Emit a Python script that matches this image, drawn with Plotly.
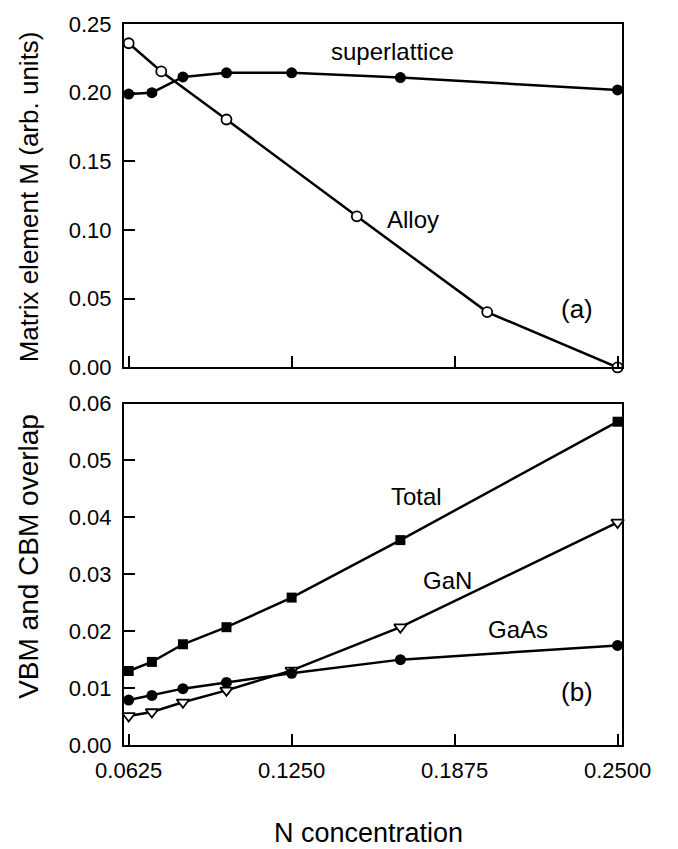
import plotly.graph_objects as go
from plotly.subplots import make_subplots

# ---- data ----
x_sl = [0.0625, 0.0714, 0.0833, 0.1000, 0.1250, 0.1667, 0.2500]
m_superlattice = [0.199, 0.200, 0.2115, 0.2145, 0.2145, 0.211, 0.202]

x_alloy = [0.0625, 0.0750, 0.1000, 0.1500, 0.2000, 0.2500]
m_alloy = [0.236, 0.2155, 0.1805, 0.1100, 0.0403, 0.0]

x_b = [0.0625, 0.0714, 0.0833, 0.1000, 0.1250, 0.1667, 0.2500]
total = [0.0130, 0.0146, 0.0177, 0.0207, 0.0259, 0.0360, 0.0568]
gan = [0.0051, 0.0058, 0.0075, 0.0096, 0.0131, 0.0207, 0.0391]
gaas = [0.0079, 0.0087, 0.0099, 0.0110, 0.0126, 0.0150, 0.0175]

x_ticks = [0.0625, 0.125, 0.1875, 0.25]
x_ticklabels = ["0.0625", "0.1250", "0.1875", "0.2500"]
ya_ticks = [0.0, 0.05, 0.10, 0.15, 0.20, 0.25]
ya_ticklabels = ["0.00", "0.05", "0.10", "0.15", "0.20", "0.25"]
yb_ticks = [0.0, 0.01, 0.02, 0.03, 0.04, 0.05, 0.06]
yb_ticklabels = ["0.00", "0.01", "0.02", "0.03", "0.04", "0.05", "0.06"]

FONT = "Liberation Sans, Arial, sans-serif"
W, H = 678, 849
ml, mr, mt, mb = 124, 56, 13, 104

fig = make_subplots(rows=2, cols=1, shared_xaxes=False)

line = dict(color="black", width=2.5)
fig.add_trace(go.Scatter(x=x_sl, y=m_superlattice, mode="lines+markers", line=line,
                         marker=dict(symbol="circle", size=11, color="black"),
                         cliponaxis=False), row=1, col=1)
fig.add_trace(go.Scatter(x=x_alloy, y=m_alloy, mode="lines+markers", line=line,
                         marker=dict(symbol="circle", size=10, color="white",
                                     line=dict(color="black", width=1.8)),
                         cliponaxis=False), row=1, col=1)
fig.add_trace(go.Scatter(x=x_b, y=total, mode="lines+markers", line=line,
                         marker=dict(symbol="square", size=10, color="black"),
                         cliponaxis=False), row=2, col=1)
fig.add_trace(go.Scatter(x=x_b, y=gan, mode="lines+markers", line=line,
                         marker=dict(symbol="triangle-down", size=11, color="white",
                                     line=dict(color="black", width=1.8)),
                         cliponaxis=False), row=2, col=1)
fig.add_trace(go.Scatter(x=x_b, y=gaas, mode="lines+markers", line=line,
                         marker=dict(symbol="circle", size=11, color="black"),
                         cliponaxis=False), row=2, col=1)

plot_h = H - mt - mb
top_dom = [(745 - 361.7) / plot_h, 1.0]
bot_dom = [0.0, (745 - 398.3) / plot_h]

axcommon = dict(showline=True, linecolor="black", linewidth=2, mirror=True,
                ticks="inside", ticklen=11, tickwidth=2, tickcolor="black",
                showgrid=False, zeroline=False,
                tickfont=dict(family=FONT, size=22, color="black"))

xr = [0.0607, 0.2517]
fig.update_layout(
    width=W, height=H, showlegend=False,
    margin=dict(l=ml, r=mr, t=mt, b=mb),
    paper_bgcolor="white", plot_bgcolor="white",
    font=dict(family=FONT, color="black"),
    xaxis=dict(domain=[0, 1], range=xr, tickvals=x_ticks,
               showticklabels=False, anchor="y", **axcommon),
    yaxis=dict(domain=top_dom, range=[0, 0.25], tickvals=ya_ticks,
               ticktext=ya_ticklabels, anchor="x", ticklabelstandoff=6, **axcommon),
    xaxis2=dict(domain=[0, 1], range=xr, tickvals=x_ticks,
                ticktext=x_ticklabels, anchor="y2", ticklabelstandoff=5, **axcommon),
    yaxis2=dict(domain=bot_dom, range=[0, 0.06], tickvals=yb_ticks,
                ticktext=yb_ticklabels, anchor="x2", ticklabelstandoff=6, **axcommon),
)

def px_x(p):
    return (p - ml) / (W - ml - mr)

def px_y(p):
    return 1 - (p - mt) / plot_h

anns = [
    ("superlattice", 392, 41, 24),
    ("Alloy", 413, 211, 24),
    ("(a)", 577, 302, 26),
    ("Total", 416, 493, 24),
    ("GaN", 447, 578, 24),
    ("GaAs", 518, 628, 24),
    ("(b)", 577, 691, 26),
]
for t, x, y, s in anns:
    fig.add_annotation(text=t, x=px_x(x), y=px_y(y), xref="paper", yref="paper",
                       showarrow=False, xanchor="center", yanchor="middle",
                       font=dict(family=FONT, size=s, color="black"))

# axis titles
fig.add_annotation(text="Matrix element M (arb. units)", x=px_x(29), y=px_y(189),
                   xref="paper", yref="paper", showarrow=False, textangle=-90,
                   xanchor="center", yanchor="middle",
                   font=dict(family=FONT, size=26, color="black"))
fig.add_annotation(text="VBM and CBM overlap", x=px_x(29), y=px_y(554),
                   xref="paper", yref="paper", showarrow=False, textangle=-90,
                   xanchor="center", yanchor="middle",
                   font=dict(family=FONT, size=28, color="black"))
fig.add_annotation(text="N concentration", x=px_x(368), y=px_y(834),
                   xref="paper", yref="paper", showarrow=False,
                   xanchor="center", yanchor="middle",
                   font=dict(family=FONT, size=27, color="black"))

fig.write_html("out.html")
